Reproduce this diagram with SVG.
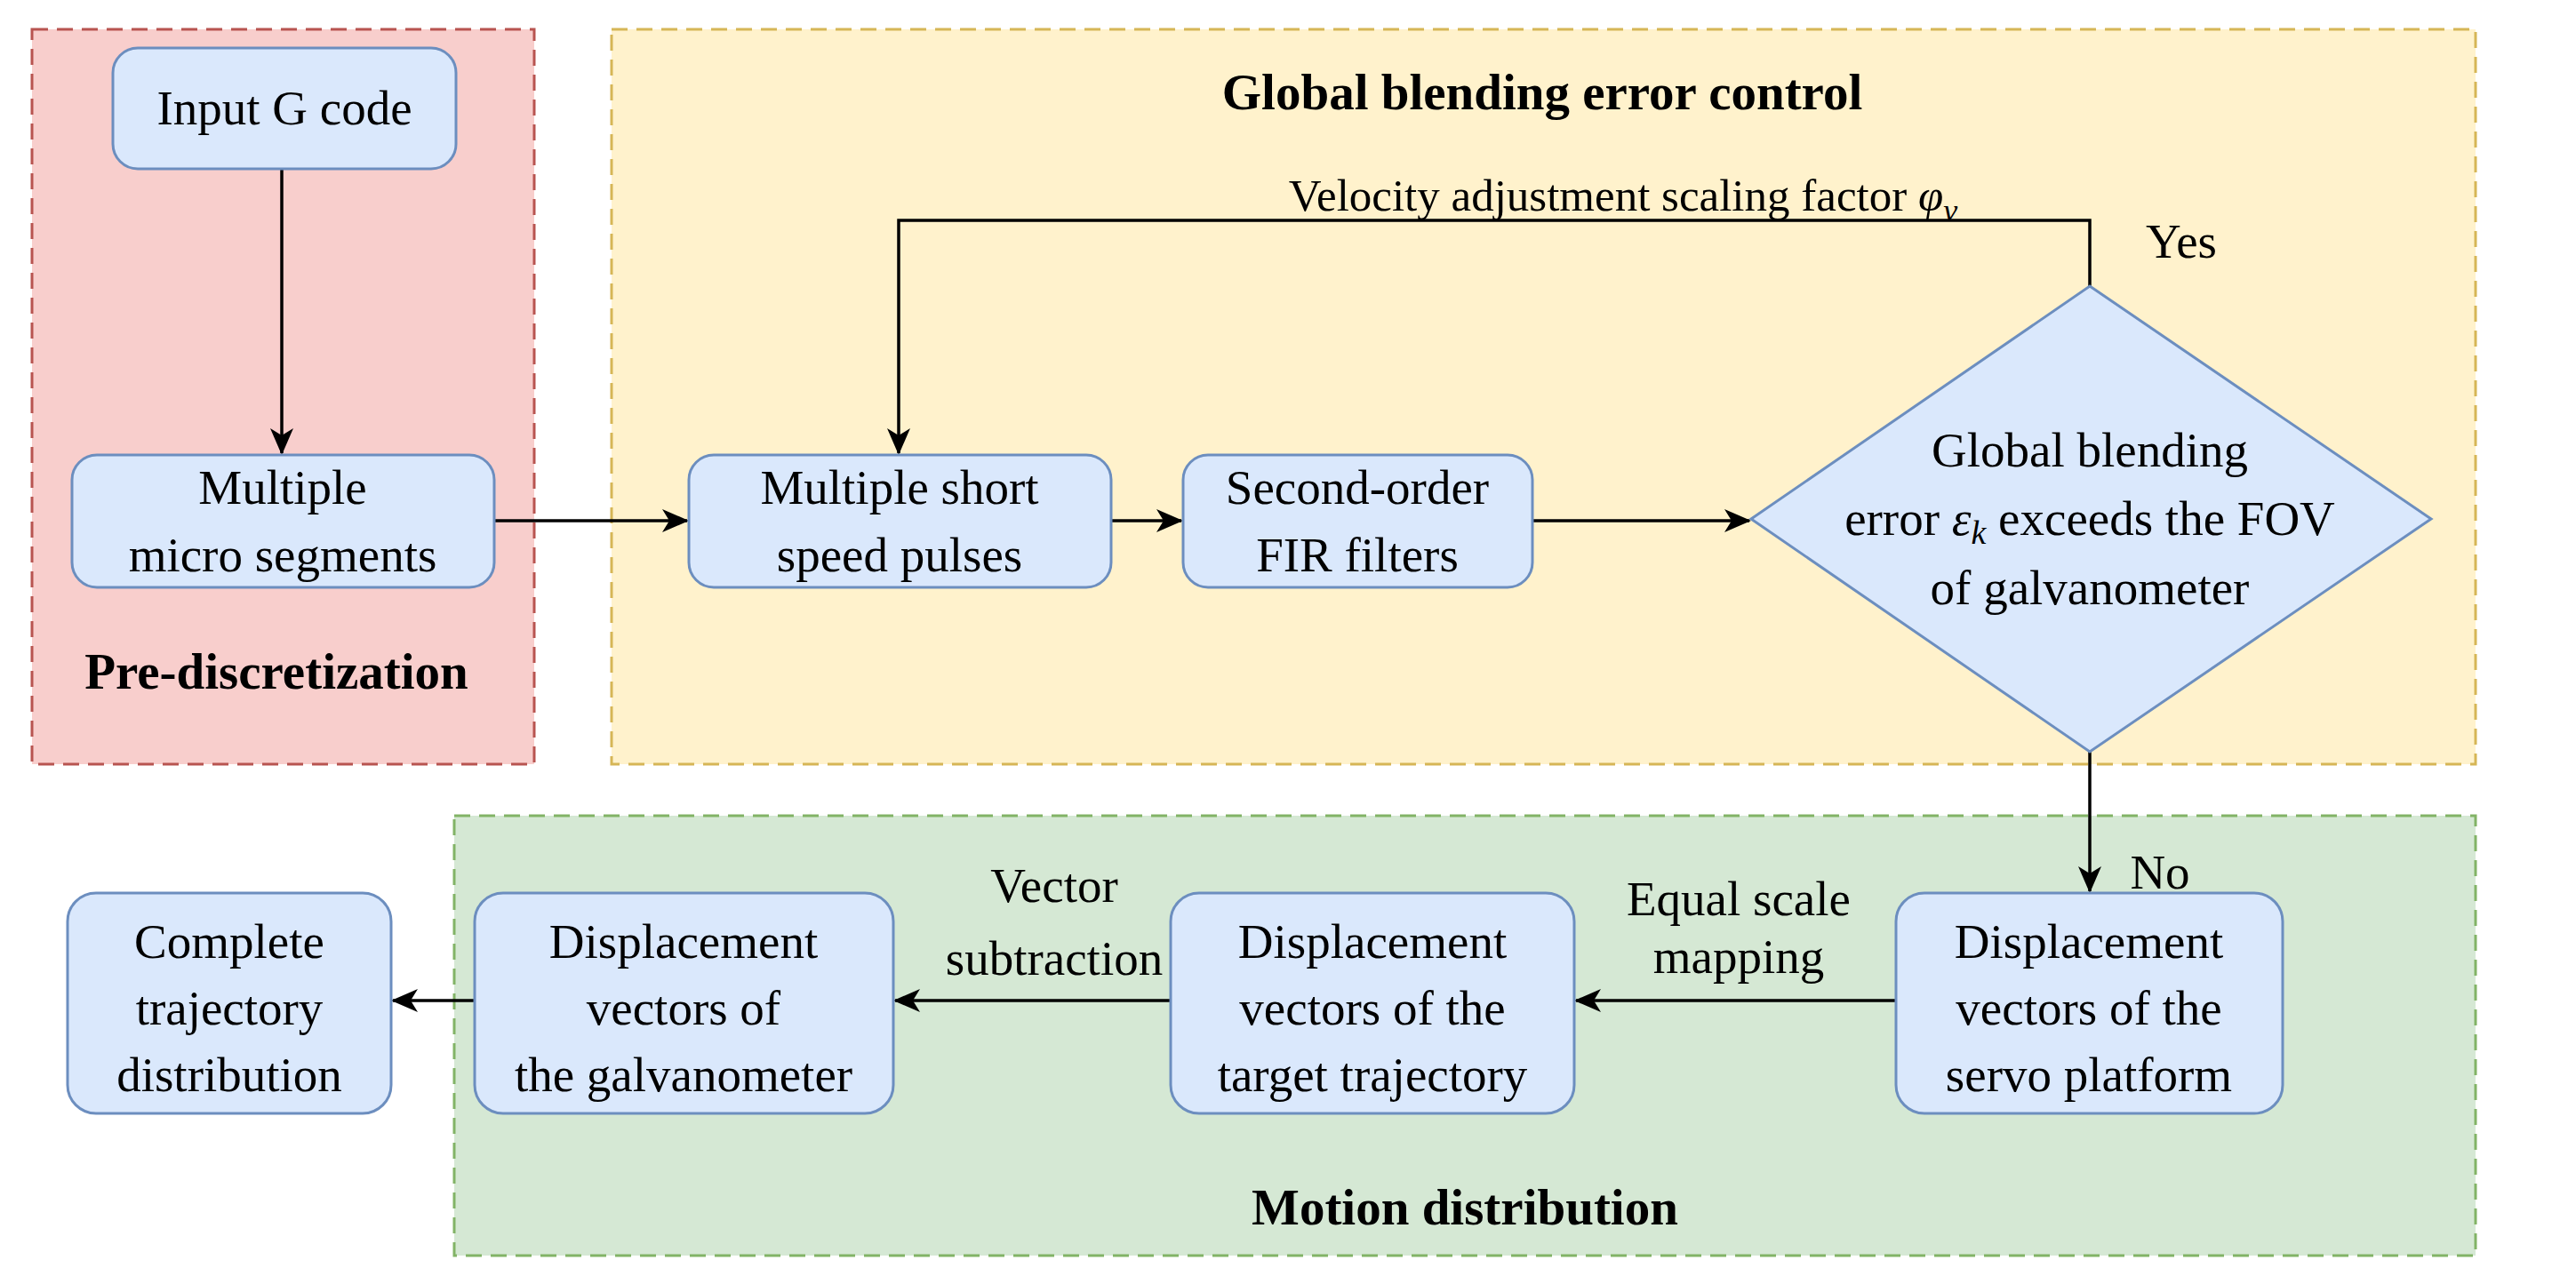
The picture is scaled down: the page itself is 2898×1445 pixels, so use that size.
<svg xmlns="http://www.w3.org/2000/svg" width="2898" height="1445" viewBox="0 0 2898 1445">
<style>
text{font-family:"Liberation Serif","Times New Roman",serif;font-size:55px;fill:#000;text-anchor:middle}
.b{font-weight:bold;font-size:57px}
.n{fill:#dae8fc;stroke:#6c8ebf;stroke-width:3}
.c{fill:none;stroke:#000;stroke-width:3.5;marker-end:url(#a)}
</style>
<defs><marker id="a" viewBox="0 0 30 30" refX="28" refY="15" markerWidth="30" markerHeight="30" markerUnits="userSpaceOnUse" orient="auto"><path d="M0,2 L30,15 L0,28 L8,15 Z"/></marker></defs>
<g id="pre"><rect x="36" y="33" width="565" height="827" fill="#f8cecc" stroke="#b85450" stroke-width="3" stroke-dasharray="18 10"/><text class="b" x="311" y="775">Pre-discretization</text></g>
<g id="glob"><rect x="688" y="33" width="2097" height="827" fill="#fff2cc" stroke="#d6b656" stroke-width="3" stroke-dasharray="18 10"/><text class="b" x="1735" y="123">Global blending error control</text></g>
<g id="motion"><rect x="511" y="918" width="2274" height="495" fill="#d5e8d4" stroke="#82b366" stroke-width="3" stroke-dasharray="18 10"/><text class="b" x="1648" y="1378">Motion distribution</text></g>
<g id="connectors">
<path class="c" d="M317,190 V510"/>
<path class="c" d="M556,586 H773"/>
<path class="c" d="M1250,586 H1329"/>
<path class="c" d="M1724,586 H1968"/>
<path class="c" d="M2351,322 V248 H1011 V510"/>
<path class="c" d="M2351,846 V1003"/>
<path class="c" d="M2133,1126 H1773"/>
<path class="c" d="M1317,1126 H1007"/>
<path class="c" d="M534,1126 H442"/>
<text x="1826" y="237" style="font-size:51px">Velocity adjustment scaling factor <tspan font-style="italic">φ</tspan><tspan font-style="italic" font-size="36" dy="12">v</tspan></text>
<text x="2454" y="290">Yes</text>
<text x="2430" y="1000">No</text>
<text x="1956" y="1030">Equal scale</text><text x="1956" y="1095">mapping</text>
<text x="1186" y="1015">Vector</text><text x="1186" y="1097">subtraction</text>
</g>
<g id="n1"><rect class="n" x="127" y="54" width="386" height="136" rx="28"/><text x="320" y="140">Input G code</text></g>
<g id="n2"><rect class="n" x="81" y="512" width="475" height="149" rx="28"/><text x="318" y="567">Multiple</text><text x="318" y="643">micro segments</text></g>
<g id="n3"><rect class="n" x="775" y="512" width="475" height="149" rx="28"/><text x="1012" y="567">Multiple short</text><text x="1012" y="643">speed pulses</text></g>
<g id="n4"><rect class="n" x="1331" y="512" width="393" height="149" rx="28"/><text x="1527" y="567">Second-order</text><text x="1527" y="643">FIR filters</text></g>
<g id="n5"><path class="n" d="M2351,322 L2735,584 L2351,846 L1970,584 Z"/><text x="2351" y="525">Global blending</text><text x="2351" y="602">error <tspan font-style="italic">ε</tspan><tspan font-style="italic" font-size="38" dy="10">k</tspan><tspan dy="-10"> exceeds the FOV</tspan></text><text x="2351" y="680">of galvanometer</text></g>
<g id="n6"><rect class="n" x="2133" y="1005" width="435" height="248" rx="32"/><text x="2350" y="1078">Displacement</text><text x="2350" y="1153">vectors of the</text><text x="2350" y="1228">servo platform</text></g>
<g id="n7"><rect class="n" x="1317" y="1005" width="454" height="248" rx="32"/><text x="1544" y="1078">Displacement</text><text x="1544" y="1153">vectors of the</text><text x="1544" y="1228">target trajectory</text></g>
<g id="n8"><rect class="n" x="534" y="1005" width="471" height="248" rx="32"/><text x="769" y="1078">Displacement</text><text x="769" y="1153">vectors of</text><text x="769" y="1228">the galvanometer</text></g>
<g id="n9"><rect class="n" x="76" y="1005" width="364" height="248" rx="32"/><text x="258" y="1078">Complete</text><text x="258" y="1153">trajectory</text><text x="258" y="1228">distribution</text></g>
</svg>
